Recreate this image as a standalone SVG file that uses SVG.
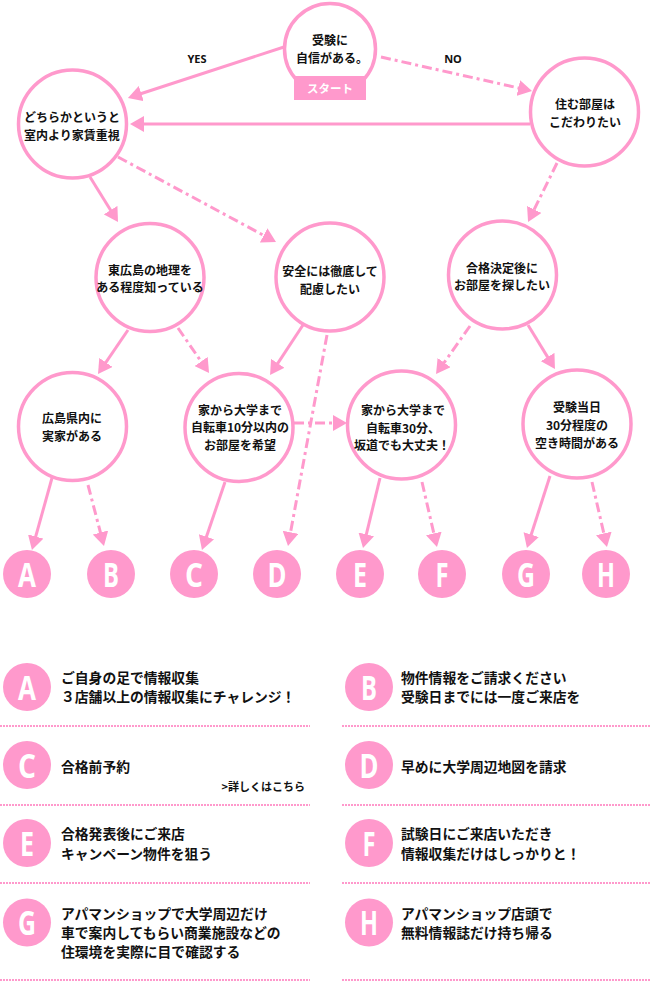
<svg xmlns="http://www.w3.org/2000/svg" width="651" height="981" viewBox="0 0 651 981">
<defs>
<style>
.node{fill:#fff;stroke:#ff99cc;stroke-width:3.5}
.t{font-family:"Noto Sans CJK JP","Noto Sans",sans-serif;font-weight:700;font-size:12px;fill:#111;text-anchor:middle}
.lbl{font-family:"Noto Sans","Noto Sans CJK JP",sans-serif;font-weight:700;font-size:11px;fill:#111;text-anchor:middle}
.solid{stroke:#ff99cc;stroke-width:3;fill:none;marker-end:url(#ah)}
.dash{stroke:#ff99cc;stroke-width:3;fill:none;stroke-dasharray:10 4 3 4;marker-end:url(#ah)}
.lc{fill:#ff99cc}
.lt{font-family:"Open Sans","Liberation Sans",sans-serif;font-weight:700;font-size:34px;fill:#fff;text-anchor:middle}
.lg{font-family:"Noto Sans CJK JP","Noto Sans",sans-serif;font-weight:700;font-size:13.8px;fill:#111}
.sep{stroke:#ff99cc;stroke-width:2;stroke-dasharray:2 1;fill:none}
</style>
<marker id="ah" viewBox="0 0 14 16" refX="3" refY="8" markerWidth="14" markerHeight="16" markerUnits="userSpaceOnUse" orient="auto">
<path d="M0,0 L14,8 L0,16 z" fill="#ff99cc"/>
</marker>
</defs>
<rect width="651" height="981" fill="#fff"/>

<g id="connectors">
<line class="solid" x1="284" y1="47" x2="138.4" y2="94.5"/>
<line class="dash" x1="381" y1="57" x2="521.3" y2="88.6"/>
<line class="solid" x1="530" y1="124" x2="141" y2="124"/>
<line class="solid" x1="90" y1="177" x2="112.2" y2="212.7"/>
<line class="dash" x1="118" y1="157" x2="266.3" y2="236.8"/>
<line class="dash" x1="557" y1="163" x2="532.9" y2="212.1"/>
<line class="solid" x1="128" y1="330" x2="104.2" y2="364.9"/>
<line class="dash" x1="178" y1="328" x2="202.8" y2="363.9"/>
<line class="solid" x1="303" y1="325" x2="276.1" y2="365.8"/>
<line class="dash" x1="327" y1="335" x2="290" y2="535.2"/>
<line class="dash" x1="470" y1="326" x2="442.4" y2="365"/>
<line class="solid" x1="528" y1="325" x2="549.2" y2="359.6"/>
<line class="dash" x1="294" y1="423" x2="336" y2="423"/>
<line class="solid" x1="52" y1="478" x2="34.9" y2="539.4"/>
<line class="dash" x1="88" y1="485" x2="101.2" y2="535.4"/>
<line class="solid" x1="225" y1="482" x2="205.5" y2="539.6"/>
<line class="solid" x1="380" y1="478" x2="365.6" y2="537.3"/>
<line class="dash" x1="422" y1="482" x2="434.5" y2="536.3"/>
<line class="solid" x1="550" y1="476" x2="530.3" y2="537.5"/>
<line class="dash" x1="592" y1="482" x2="604.5" y2="536.3"/>
</g>
<text class="lbl" x="197" y="63">YES</text>
<text class="lbl" x="453" y="63">NO</text>

<g id="start">
<circle class="node" cx="330" cy="49" r="45.5"/>
<rect x="294" y="76" width="72" height="24" fill="#ff99cc"/>
<text class="t" x="330" y="45">受験に</text>
<text class="t" x="332" y="62.5">自信がある。</text>
<text class="t" x="330" y="93" style="fill:#fff;font-size:11.5px">スタート</text>
</g>
<g id="n-dochira">
<circle class="node" cx="72.5" cy="124" r="54"/>
<text class="t" x="72" y="121.5">どちらかというと</text>
<text class="t" x="72" y="139.5">室内より家賃重視</text>
</g>
<g id="n-sumu">
<circle class="node" cx="584.5" cy="112" r="54"/>
<text class="t" x="585" y="108.5">住む部屋は</text>
<text class="t" x="585" y="126.5">こだわりたい</text>
</g>
<g id="n-higashi">
<circle class="node" cx="150" cy="277.5" r="54"/>
<text class="t" x="150" y="274.5">東広島の地理を</text>
<text class="t" x="150" y="291.5">ある程度知っている</text>
</g>
<g id="n-anzen">
<circle class="node" cx="330" cy="277" r="54"/>
<text class="t" x="330" y="275.5">安全には徹底して</text>
<text class="t" x="330" y="293.5">配慮したい</text>
</g>
<g id="n-goukaku">
<circle class="node" cx="502.5" cy="275" r="54"/>
<text class="t" x="502" y="272.5">合格決定後に</text>
<text class="t" x="502" y="289.5">お部屋を探したい</text>
</g>
<g id="n-kennai">
<circle class="node" cx="72.5" cy="426.5" r="54"/>
<text class="t" x="72" y="422.5">広島県内に</text>
<text class="t" x="72" y="440.5">実家がある</text>
</g>
<g id="n-10min">
<circle class="node" cx="239" cy="427.5" r="54"/>
<text class="t" x="240" y="414.5">家から大学まで</text>
<text class="t" x="240" y="431.5">自転車10分以内の</text>
<text class="t" x="240" y="449.5">お部屋を希望</text>
</g>
<g id="n-30min">
<circle class="node" cx="401.5" cy="425" r="54"/>
<text class="t" x="403" y="414.5">家から大学まで</text>
<text class="t" x="403" y="432.5">自転車30分、</text>
<text class="t" x="402" y="449.5">坂道でも大丈夫！</text>
</g>
<g id="n-toujitsu">
<circle class="node" cx="577" cy="424" r="54"/>
<text class="t" x="577" y="411.5">受験当日</text>
<text class="t" x="577" y="429.5">30分程度の</text>
<text class="t" x="577" y="447.5">空き時間がある</text>
</g>

<g id="leaf-A"><circle class="lc" cx="27" cy="574" r="24"/><text class="lt" x="27" y="586.5" textLength="18" lengthAdjust="spacingAndGlyphs">A</text></g>
<g id="leaf-B"><circle class="lc" cx="111" cy="574" r="24"/><text class="lt" x="111" y="586.5" textLength="16" lengthAdjust="spacingAndGlyphs">B</text></g>
<g id="leaf-C"><circle class="lc" cx="194" cy="574" r="24"/><text class="lt" x="194" y="586.5" textLength="18" lengthAdjust="spacingAndGlyphs">C</text></g>
<g id="leaf-D"><circle class="lc" cx="277" cy="574" r="24"/><text class="lt" x="277" y="586.5" textLength="19" lengthAdjust="spacingAndGlyphs">D</text></g>
<g id="leaf-E"><circle class="lc" cx="360" cy="574" r="24"/><text class="lt" x="360" y="586.5" textLength="14" lengthAdjust="spacingAndGlyphs">E</text></g>
<g id="leaf-F"><circle class="lc" cx="442" cy="574" r="24"/><text class="lt" x="442" y="586.5" textLength="13" lengthAdjust="spacingAndGlyphs">F</text></g>
<g id="leaf-G"><circle class="lc" cx="526" cy="574" r="24"/><text class="lt" x="526" y="586.5" textLength="18" lengthAdjust="spacingAndGlyphs">G</text></g>
<g id="leaf-H"><circle class="lc" cx="606" cy="574" r="24"/><text class="lt" x="606" y="586.5" textLength="18" lengthAdjust="spacingAndGlyphs">H</text></g>

<g id="legend">
<g id="legend-A"><circle class="lc" cx="27" cy="687" r="24"/><text class="lt" x="27" y="699.5" textLength="18" lengthAdjust="spacingAndGlyphs">A</text>
<text class="lg" x="61" y="683">ご自身の足で情報収集</text><text class="lg" x="61" y="702">３店舗以上の情報収集にチャレンジ！</text></g>
<g id="legend-B"><circle class="lc" cx="369" cy="687" r="24"/><text class="lt" x="369" y="699.5" textLength="16" lengthAdjust="spacingAndGlyphs">B</text>
<text class="lg" x="401" y="683">物件情報をご請求ください</text><text class="lg" x="401" y="702">受験日までには一度ご来店を</text></g>
<g id="legend-C"><circle class="lc" cx="27" cy="765" r="24"/><text class="lt" x="27" y="777.5" textLength="18" lengthAdjust="spacingAndGlyphs">C</text>
<text class="lg" x="61" y="772">合格前予約</text><text class="lg" x="305" y="791" style="font-size:11px;text-anchor:end">&gt;詳しくはこちら</text></g>
<g id="legend-D"><circle class="lc" cx="369" cy="765" r="24"/><text class="lt" x="369" y="777.5" textLength="19" lengthAdjust="spacingAndGlyphs">D</text>
<text class="lg" x="401" y="772">早めに大学周辺地図を請求</text></g>
<g id="legend-E"><circle class="lc" cx="27" cy="843" r="24"/><text class="lt" x="27" y="855.5" textLength="14" lengthAdjust="spacingAndGlyphs">E</text>
<text class="lg" x="61" y="839">合格発表後にご来店</text><text class="lg" x="61" y="859">キャンペーン物件を狙う</text></g>
<g id="legend-F"><circle class="lc" cx="369" cy="843" r="24"/><text class="lt" x="369" y="855.5" textLength="13" lengthAdjust="spacingAndGlyphs">F</text>
<text class="lg" x="401" y="839">試験日にご来店いただき</text><text class="lg" x="401" y="859">情報収集だけはしっかりと！</text></g>
<g id="legend-G"><circle class="lc" cx="27" cy="922.5" r="24"/><text class="lt" x="27" y="935" textLength="18" lengthAdjust="spacingAndGlyphs">G</text>
<text class="lg" x="61" y="919">アパマンショップで大学周辺だけ</text><text class="lg" x="61" y="938">車で案内してもらい商業施設などの</text><text class="lg" x="61" y="957">住環境を実際に目で確認する</text></g>
<g id="legend-H"><circle class="lc" cx="369" cy="922.5" r="24"/><text class="lt" x="369" y="935" textLength="18" lengthAdjust="spacingAndGlyphs">H</text>
<text class="lg" x="401" y="919">アパマンショップ店頭で</text><text class="lg" x="401" y="938">無料情報誌だけ持ち帰る</text></g>
<path class="sep" d="M0,726H310M342,726H651M0,805H310M342,805H651M0,883H310M342,883H651M0,980H310M342,980H651"/>
</g>
</svg>
